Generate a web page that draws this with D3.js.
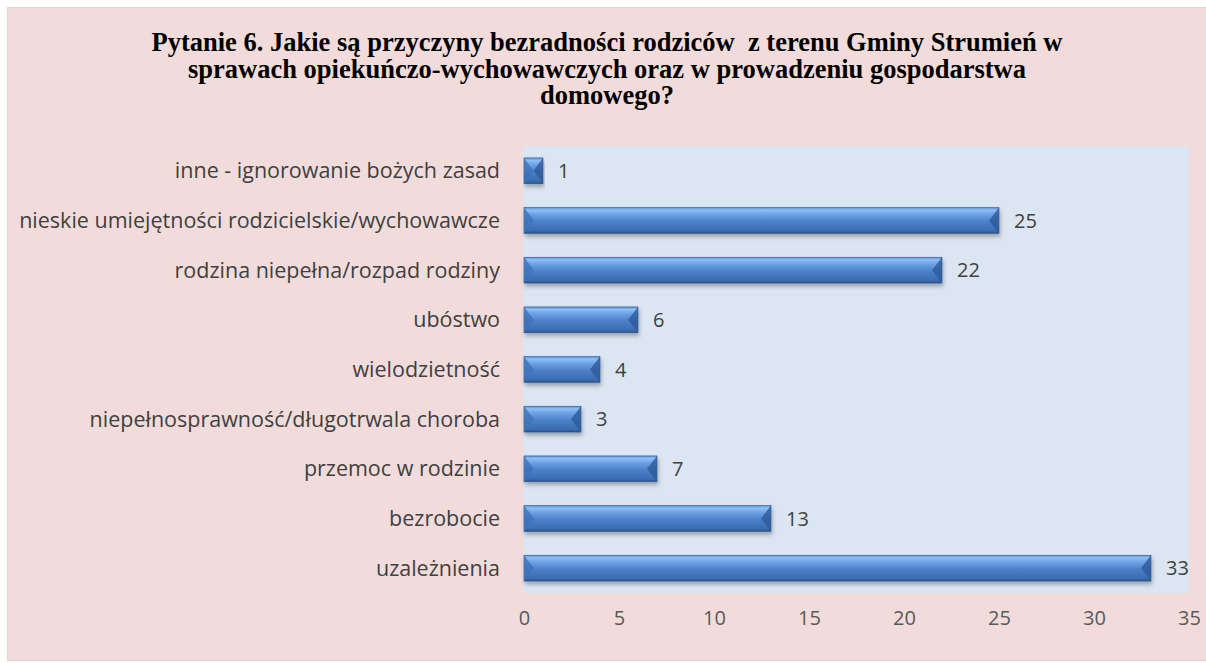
<!DOCTYPE html>
<html lang="pl">
<head>
<meta charset="UTF-8">
<title>Pytanie 6</title>
<style>
  body { margin: 0; background: #fff; }
  .title { font-family: "Liberation Serif", "Times New Roman", serif; font-weight: bold; font-size: 26.5px; fill: #000; white-space: pre; }
  .cat text { font-family: "Open Sans", sans-serif; font-size: 21.5px; fill: #404040; }
  .axis-x text { font-family: "Open Sans", sans-serif; font-size: 20px; fill: #595959; }
  .val { font-family: "Open Sans", sans-serif; font-size: 20px; fill: #404040; }
</style>
<script src="https://d3js.org/d3.v7.min.js"></script>
</head>
<body>
<script>
  const categories = [
    "inne - ignorowanie bożych zasad",
    "nieskie umiejętności rodzicielskie/wychowawcze",
    "rodzina niepełna/rozpad rodziny",
    "ubóstwo",
    "wielodzietność",
    "niepełnosprawność/długotrwala choroba",
    "przemoc w rodzinie",
    "bezrobocie",
    "uzależnienia"
  ];
  const values = [1, 25, 22, 6, 4, 3, 7, 13, 33];
  const xTicks = [0, 5, 10, 15, 20, 25, 30, 35];
  const titleLines = [
    "Pytanie 6. Jakie są przyczyny bezradności rodziców  z terenu Gminy Strumień w",
    "sprawach opiekuńczo-wychowawczych oraz w prowadzeniu gospodarstwa",
    "domowego?"
  ];

  const W = 1206, H = 663;
  const plot = { left: 523, top: 146, right: 1189, bottom: 593 };

  const svg = d3.select("body").append("svg")
    .attr("width", W).attr("height", H);

  const defs = svg.append("defs");
  const grad = defs.append("linearGradient")
    .attr("id", "barGrad").attr("x1", 0).attr("y1", 0).attr("x2", 0).attr("y2", 1);
  [[0, "#5a8fd6"], [0.1, "#8ec0f5"], [0.25, "#6fa3e6"], [0.55, "#4a80c8"], [0.9, "#3a6cb0"], [1, "#2b4f82"]]
    .forEach(([o, c]) => grad.append("stop").attr("offset", o).attr("stop-color", c));
  const shadow = defs.append("filter").attr("id", "shadow")
    .attr("x", "-5%").attr("y", "-20%").attr("width", "115%").attr("height", "160%");
  shadow.append("feDropShadow").attr("dx", 1).attr("dy", 3).attr("stdDeviation", 2)
    .attr("flood-color", "#000").attr("flood-opacity", 0.3);

  // chart area
  svg.append("rect").attr("x", 7.5).attr("y", 7.5).attr("width", W - 7).attr("height", 653)
    .attr("fill", "#f2dcdb").attr("stroke", "#d9d9d9");

  svg.append("rect").attr("x", plot.left).attr("y", plot.top)
    .attr("width", plot.right - plot.left).attr("height", plot.bottom - plot.top)
    .attr("fill", "#dce6f2");

  svg.append("text").attr("class", "title")
    .attr("text-anchor", "middle")
    .selectAll("tspan").data(titleLines).join("tspan")
    .attr("x", 607).attr("y", (d, i) => 51 + i * 26.6)
    .text(d => d);

  const x = d3.scaleLinear().domain([0, 35]).range([plot.left + 1, plot.right]);
  const y = d3.scaleBand().domain(categories).range([plot.top, plot.bottom]).paddingInner(0.48).paddingOuter(0.24);

  const cat = svg.append("g").attr("class", "cat");
  cat.selectAll("text").data(categories).join("text")
    .attr("x", plot.left - 23)
    .attr("y", d => y(d) + y.bandwidth() / 2)
    .attr("dy", "0.35em")
    .attr("text-anchor", "end")
    .text(d => d);

  const axis = svg.append("g").attr("class", "axis-x")
    .attr("transform", `translate(0, ${plot.bottom + 8})`)
    .call(d3.axisBottom(x).tickValues(xTicks).tickSize(0).tickPadding(10));
  axis.select(".domain").remove();

  const data = categories.map((c, i) => ({ c, v: values[i] }));
  const bars = svg.append("g").selectAll("g").data(data).join("g")
    .attr("filter", "url(#shadow)");
  bars.append("rect")
    .attr("x", x(0))
    .attr("y", d => y(d.c))
    .attr("width", d => x(d.v) - x(0))
    .attr("height", y.bandwidth())
    .attr("fill", "url(#barGrad)")
    .attr("stroke", "#2f5790").attr("stroke-width", 0.6);
  // bevel ends
  const b = 10;
  bars.append("path")
    .attr("d", d => {
      const x0 = x(0), x1 = x(d.v), y0 = y(d.c), h = y.bandwidth();
      const bb = Math.min(b, (x1 - x0) / 2);
      return `M${x0},${y0}L${x0 + bb},${y0 + h / 2}L${x0},${y0 + h}Z`;
    })
    .attr("fill", "#3f73b8").attr("opacity", 0.8);
  bars.append("path")
    .attr("d", d => {
      const x0 = x(0), x1 = x(d.v), y0 = y(d.c), h = y.bandwidth();
      const bb = Math.min(b, (x1 - x0) / 2);
      return `M${x1},${y0}L${x1 - bb},${y0 + h / 2}L${x1},${y0 + h}Z`;
    })
    .attr("fill", "#2d5a99").attr("opacity", 0.8);

  svg.append("g").selectAll("text").data(data).join("text")
    .attr("class", "val")
    .attr("x", d => x(d.v) + 15)
    .attr("y", d => y(d.c) + y.bandwidth() / 2)
    .attr("dy", "0.35em")
    .text(d => d.v);
</script>
</body>
</html>
